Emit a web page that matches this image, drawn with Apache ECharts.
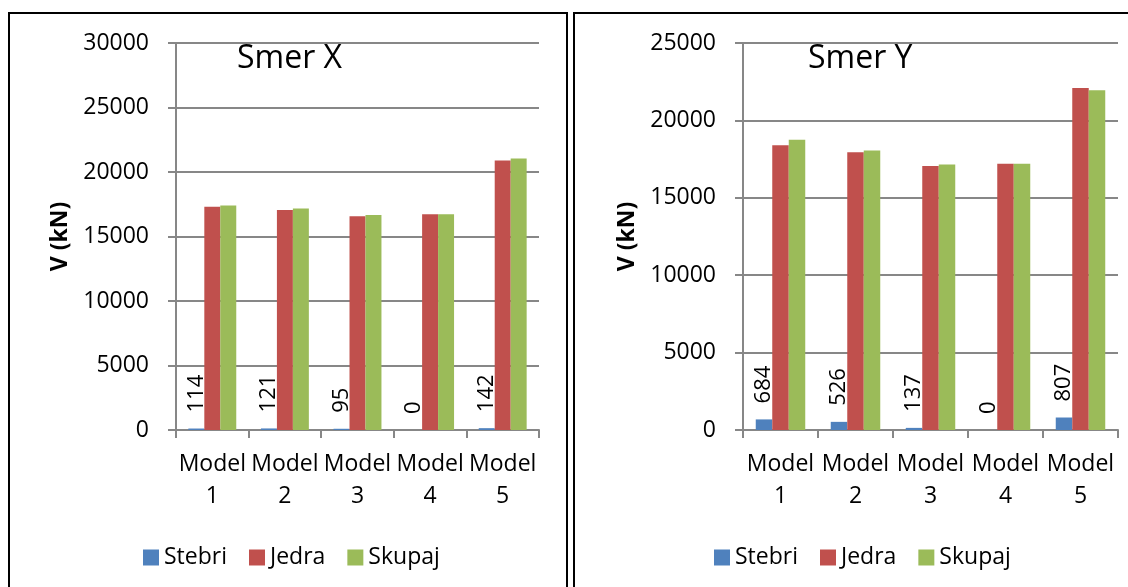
<!DOCTYPE html>
<html>
<head>
<meta charset="utf-8">
<script src="https://cdn.jsdelivr.net/npm/echarts@6/dist/echarts.min.js"></script>
<style>
  html, body { margin: 0; padding: 0; background: #fff; }
  #chart { width: 1128px; height: 587px; }
</style>
</head>
<body>
<div id="chart"></div>
<script>
const categories = ["Model\n1", "Model\n2", "Model\n3", "Model\n4", "Model\n5"];
const seriesNames = ["Stebri", "Jedra", "Skupaj"];

// Smer X
const stebriX = [114, 121, 95, 0, 142];
const jedraX = [17300, 17050, 16570, 16720, 20900];
const skupajX = [17400, 17170, 16665, 16720, 21040];

// Smer Y
const stebriY = [684, 526, 137, 0, 807];
const jedraY = [18400, 17950, 17050, 17200, 22100];
const skupajY = [18750, 18050, 17150, 17200, 21950];

const colors = ["#4F81BD", "#C0504D", "#9BBB59"];
const font = "'Open Sans', 'Liberation Sans', sans-serif";
const gridColor = "#878787";

const chart = echarts.init(document.getElementById("chart"));

function xAxis(gridIndex) {
  return {
    type: "category",
    gridIndex,
    data: categories,
    axisLine: { lineStyle: { color: gridColor, width: 2 } },
    axisTick: { show: true, length: 8, lineStyle: { color: gridColor, width: 2 } },
    axisLabel: {
      interval: 0,
      color: "#000",
      fontFamily: font,
      fontSize: 23,
      lineHeight: 32,
      margin: 18,
    },
  };
}

function yAxis(gridIndex, max) {
  return {
    type: "value",
    gridIndex,
    min: 0,
    max,
    interval: 5000,
    name: "V (kN)",
    nameLocation: "middle",
    nameGap: 104,
    nameTextStyle: { fontFamily: font, fontSize: 23, fontWeight: "bold", color: "#000" },
    axisLine: { show: true, lineStyle: { color: gridColor, width: 2 } },
    axisTick: { show: true, length: 8, lineStyle: { color: gridColor, width: 2 } },
    axisLabel: { color: "#000", fontFamily: font, fontSize: 23, margin: 27, formatter: (v) => String(v) },
    splitLine: { lineStyle: { color: gridColor, width: 2 } },
  };
}

function barSeries(name, data, idx, axisIndex) {
  const s = {
    name,
    type: "bar",
    xAxisIndex: axisIndex,
    yAxisIndex: axisIndex,
    data,
    barGap: "0%",
    barCategoryGap: "34%",
    itemStyle: { color: colors[idx] },
  };
  if (idx === 0) {
    s.label = {
      show: true,
      position: "top",
      rotate: 90,
      align: "left",
      verticalAlign: "middle",
      distance: 16,
      color: "#000",
      fontFamily: font,
      fontSize: 22,
    };
  }
  return s;
}

function legend(left) {
  return {
    data: seriesNames,
    left,
    top: 541,
    itemWidth: 16,
    itemHeight: 16,
    itemGap: 22,
    icon: "rect",
    textStyle: { fontFamily: font, fontSize: 23, color: "#000" },
  };
}

const titleStyle = { fontFamily: font, fontSize: 32, fontWeight: "normal", color: "#000" };

chart.setOption({
  animation: false,
  title: [
    { text: "Smer X", left: 232, top: 38, textStyle: titleStyle },
    { text: "Smer Y", left: 803, top: 38, textStyle: titleStyle },
  ],
  legend: [legend(138), legend(709)],
  grid: [
    { left: 176, right: 589, top: 43, bottom: 157 },
    { left: 743, right: 10, top: 43, bottom: 157 },
  ],
  xAxis: [xAxis(0), xAxis(1)],
  yAxis: [yAxis(0, 30000), yAxis(1, 25000)],
  series: [
    barSeries("Stebri", stebriX, 0, 0),
    barSeries("Jedra", jedraX, 1, 0),
    barSeries("Skupaj", skupajX, 2, 0),
    barSeries("Stebri", stebriY, 0, 1),
    barSeries("Jedra", jedraY, 1, 1),
    barSeries("Skupaj", skupajY, 2, 1),
  ],
  graphic: [
    { type: "rect", shape: { x: 9, y: 13, width: 558, height: 600 }, style: { fill: "none", stroke: "#000", lineWidth: 2 } },
    { type: "rect", shape: { x: 574, y: 13, width: 600, height: 600 }, style: { fill: "none", stroke: "#000", lineWidth: 2 } },
  ],
});
</script>
</body>
</html>
